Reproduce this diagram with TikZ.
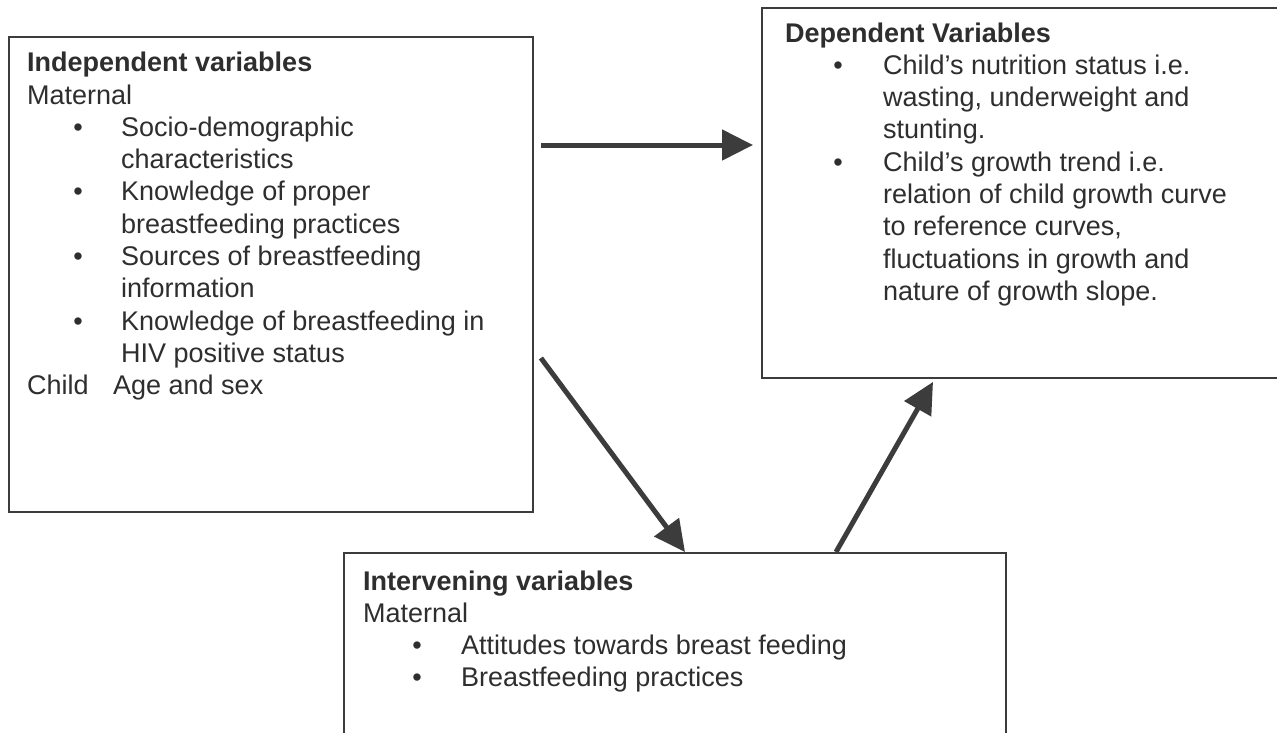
\documentclass[tikz,border=0pt]{standalone}
\usepackage{fontspec}
\setmainfont{Liberation Sans}
\usetikzlibrary{arrows.meta}
\definecolor{ink}{HTML}{2E2E2E}
\definecolor{rule}{HTML}{3C3C3C}
\newcommand\bul[2]{\hspace*{#1}\makebox[0pt][c]{\textbullet}\hspace*{\dimexpr#2-#1\relax}}
\newcommand\ind[1]{\hspace*{#1}}
\tikzset{
  frame/.style={draw=rule, line width=1.9pt, inner sep=0pt, anchor=north west},
  body/.style={inner sep=0pt, anchor=base west, text=ink, font=\fontsize{27}{32.3}\selectfont},
  arr/.style={draw=rule, line width=5pt, -{Triangle[length=31pt,width=30pt]}}
}
\begin{document}
\begin{tikzpicture}[x=1pt,y=-1pt]
\useasboundingbox (0,0) rectangle (1277,732);
\fill[white] (0,0) rectangle (1277,732);
\clip (0,0) rectangle (1277,732);
% boxes
\node[frame, minimum width=524pt, minimum height=475pt] (lb) at (8,36) {};
\node[frame, minimum width=540pt, minimum height=370pt] (rb) at (761,7) {};
\node[frame, minimum width=662pt, minimum height=220pt] (ib) at (343,552) {};
% texts
\node[body] (lt) at (27,71.7) {\parbox[t]{500pt}{%
\textbf{Independent variables}\\
Maternal\\
\bul{51pt}{94pt}Socio-demographic\\
\ind{94pt}characteristics\\
\bul{51pt}{94pt}Knowledge of proper\\
\ind{94pt}breastfeeding practices\\
\bul{51pt}{94pt}Sources of breastfeeding\\
\ind{94pt}information\\
\bul{51pt}{94pt}Knowledge of breastfeeding in\\
\ind{94pt}HIV positive status\\
\makebox[86pt][l]{Child}Age and sex}};
\node[body] (rt) at (785,42) {\parbox[t]{480pt}{%
\textbf{Dependent Variables}\\
\bul{53pt}{98pt}Child’s nutrition status i.e.\\
\ind{98pt}wasting, underweight and\\
\ind{98pt}stunting.\\
\bul{53pt}{98pt}Child’s growth trend i.e.\\
\ind{98pt}relation of child growth curve\\
\ind{98pt}to reference curves,\\
\ind{98pt}fluctuations in growth and\\
\ind{98pt}nature of growth slope.}};
\node[body] (it) at (363,590) {\parbox[t]{620pt}{%
\textbf{Intervening variables}\\
Maternal\\
\bul{54pt}{98pt}Attitudes towards breast feeding\\
\bul{54pt}{98pt}Breastfeeding practices}};
% connectors
\draw[arr] ([shift={(7,109)}]lb.north east) -- ([shift={(-8,138)}]rb.north west);
\draw[arr] ([shift={(7,322)}]lb.north east) -- ([shift={(342,0)}]ib.north west);
\draw[arr] ([shift={(493,0)}]ib.north west) -- ([shift={(172,3)}]rb.south west);
\end{tikzpicture}
\end{document}
